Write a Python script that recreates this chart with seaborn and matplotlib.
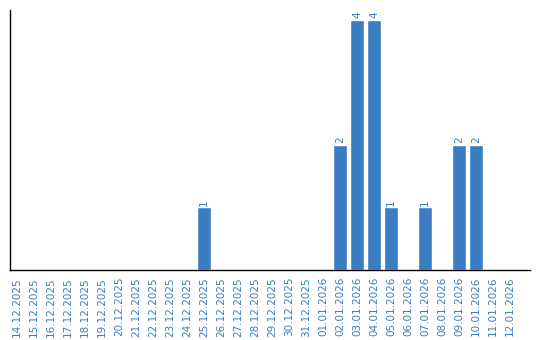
import matplotlib
matplotlib.use("Agg")
import matplotlib.pyplot as plt
import seaborn as sns
import pandas as pd
import numpy as np

dates = ["14.12.2025", "15.12.2025", "16.12.2025", "17.12.2025", "18.12.2025",
         "19.12.2025", "20.12.2025", "21.12.2025", "22.12.2025", "23.12.2025",
         "24.12.2025", "25.12.2025", "26.12.2025", "27.12.2025", "28.12.2025",
         "29.12.2025", "30.12.2025", "31.12.2025", "01.01.2026", "02.01.2026",
         "03.01.2026", "04.01.2026", "05.01.2026", "06.01.2026", "07.01.2026",
         "08.01.2026", "09.01.2026", "10.01.2026", "11.01.2026", "12.01.2026"]
values = [0, 0, 0, 0, 0, 0, 0, 0, 0, 0,
          0, 1, 0, 0, 0, 0, 0, 0, 0, 2,
          4, 4, 1, 0, 1, 0, 2, 2, 0, 0]

sns.set_style("white")
plt.rcParams['font.family'] = ['DejaVu Sans']

color = "#3a7dc2"
df = pd.DataFrame({"date": dates, "value": values})

fig = plt.figure(figsize=(5.4, 3.4), dpi=100)
ax = fig.add_axes([0.0194, 0.206, 0.963, 0.7647])
sns.barplot(data=df, x="date", y="value", color=color, saturation=1,
            width=0.79, ax=ax, order=dates)

for i, v in enumerate(values):
    if v > 0:
        ax.text(i, v + 0.03, str(v), rotation=90, ha="center", va="bottom",
                color=color, fontsize=7.5)

ax.set_ylim(0, 4.16)
ax.set_xlim(-0.38, 30.2)
ax.set_xlabel("")
ax.set_ylabel("")
ax.set_yticks([])
ax.tick_params(axis="x", length=0, pad=5, labelsize=7.5, labelcolor=color)
for lbl in ax.get_xticklabels():
    lbl.set_rotation(90)
sns.despine(ax=ax, top=True, right=True)
ax.spines["left"].set_color("black")
ax.spines["bottom"].set_color("black")
ax.spines["left"].set_linewidth(1.0)
ax.spines["bottom"].set_linewidth(1.0)

fig.savefig("out.png", dpi=100)
